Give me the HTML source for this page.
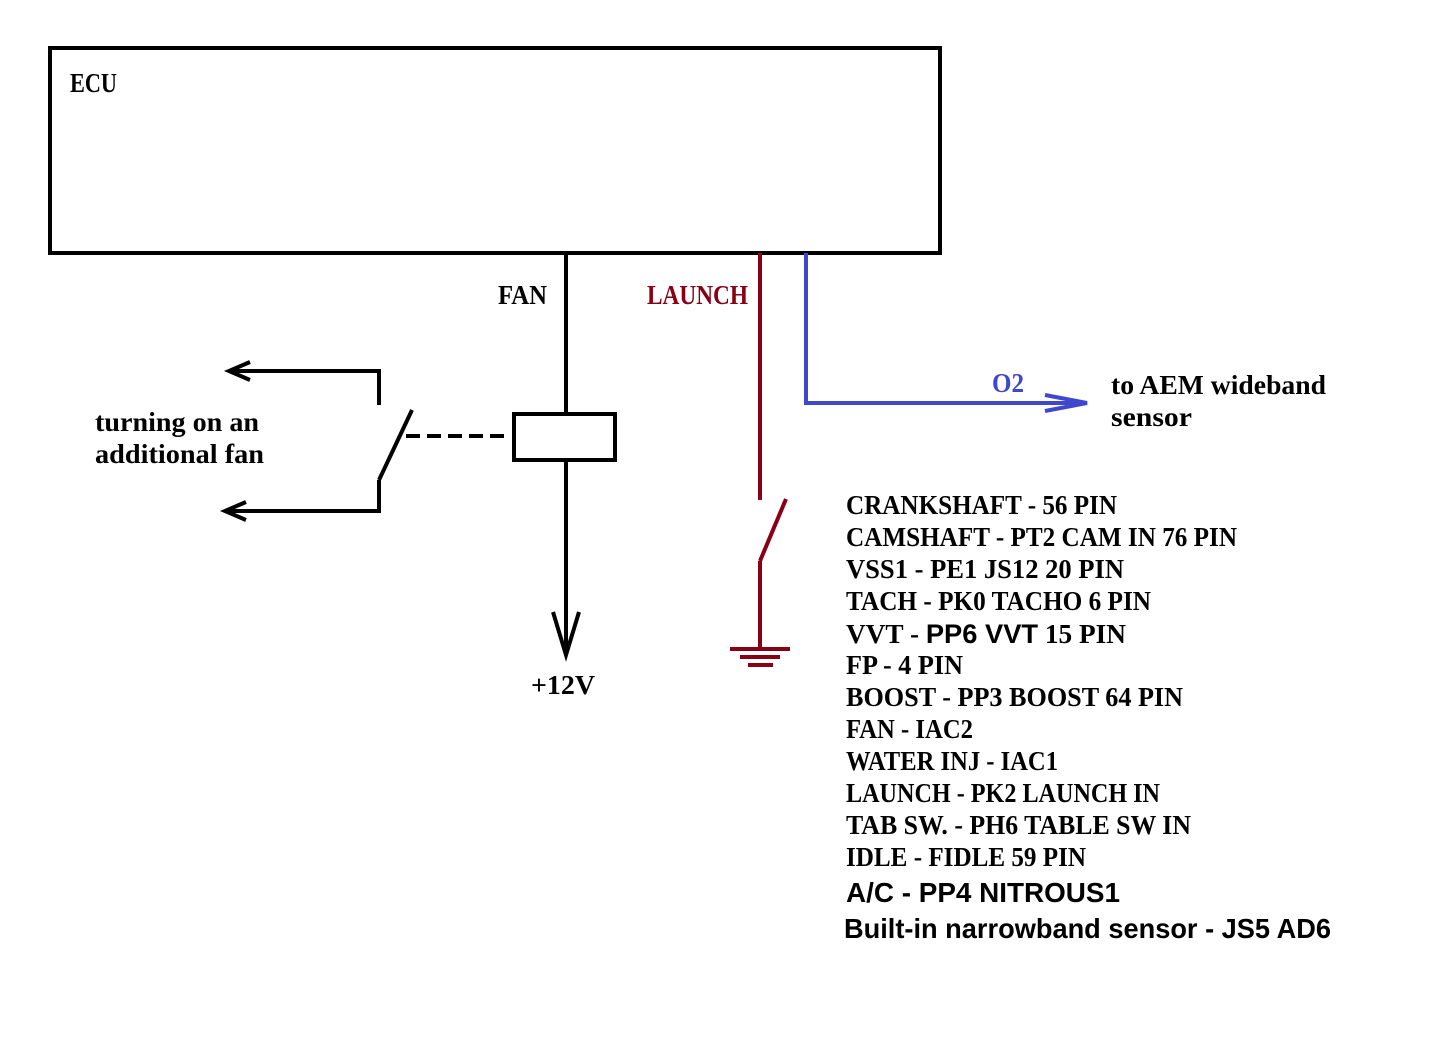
<!DOCTYPE html>
<html><head><meta charset="utf-8"><style>html,body{margin:0;padding:0;background:#fff}svg{display:block}</style></head>
<body>
<svg width="1433" height="1057" viewBox="0 0 1433 1057" xmlns="http://www.w3.org/2000/svg">
<rect width="1433" height="1057" fill="#fff"/>
<g fill="none" stroke="#000" stroke-width="4">
<rect x="50" y="48" width="890" height="205"/>
<line x1="566" y1="253" x2="566" y2="413"/>
<rect x="514" y="414" width="101" height="46"/>
<line x1="566" y1="460" x2="566" y2="655"/>
<polyline points="553,612 566,655 579,612"/>
<polyline points="379,405 379,371 229,371"/>
<polyline points="250,362 229,371 250,380"/>
<polyline points="379,480 379,511 225,511"/>
<polyline points="246,502 225,511 246,520"/>
<line x1="379" y1="480" x2="412" y2="410"/>
<line x1="406" y1="436" x2="508" y2="436" stroke-dasharray="14,7"/>
</g>
<g fill="none" stroke="#880015" stroke-width="4">
<line x1="760" y1="253" x2="760" y2="500"/>
<line x1="760" y1="561" x2="786" y2="499"/>
<line x1="760" y1="561" x2="760" y2="648"/>
<line x1="730" y1="649" x2="790" y2="649"/>
<line x1="740" y1="657" x2="780" y2="657"/>
<line x1="748" y1="665" x2="773" y2="665"/>
</g>
<g fill="none" stroke="#3f48cc" stroke-width="4">
<polyline points="806,253 806,403 1086,403"/>
<polyline points="1045,395 1087,403 1045,411"/>
</g>
<g font-family="'Liberation Serif', serif" font-weight="bold" font-size="27" fill="#000">
<text x="70" y="92" textLength="47" lengthAdjust="spacingAndGlyphs">ECU</text>
<text x="498" y="304" textLength="49" lengthAdjust="spacingAndGlyphs">FAN</text>
<text x="647" y="304" textLength="101" lengthAdjust="spacingAndGlyphs" fill="#880015">LAUNCH</text>
<text x="992" y="392" textLength="32" lengthAdjust="spacingAndGlyphs" fill="#3f48cc">O2</text>
<text x="1111" y="394" textLength="215" lengthAdjust="spacingAndGlyphs">to AEM wideband</text>
<text x="1111" y="426" textLength="81" lengthAdjust="spacingAndGlyphs">sensor</text>
<text x="95" y="431" textLength="164" lengthAdjust="spacingAndGlyphs">turning on an</text>
<text x="95" y="463" textLength="169" lengthAdjust="spacingAndGlyphs">additional fan</text>
<text x="531" y="694" textLength="64" lengthAdjust="spacingAndGlyphs">+12V</text>
<text x="846" y="514" textLength="271" lengthAdjust="spacingAndGlyphs">CRANKSHAFT - 56 PIN</text>
<text x="846" y="546" textLength="391" lengthAdjust="spacingAndGlyphs">CAMSHAFT - PT2 CAM IN 76 PIN</text>
<text x="846" y="578" textLength="278" lengthAdjust="spacingAndGlyphs">VSS1 - PE1 JS12 20 PIN</text>
<text x="846" y="610" textLength="305" lengthAdjust="spacingAndGlyphs">TACH - PK0 TACHO 6 PIN</text>
<text x="846" y="643" textLength="280" lengthAdjust="spacingAndGlyphs">VVT - <tspan font-family="'Liberation Sans', sans-serif">PP6 VVT</tspan>  15 PIN</text>
<text x="846" y="674" textLength="117" lengthAdjust="spacingAndGlyphs">FP - 4 PIN</text>
<text x="846" y="706" textLength="337" lengthAdjust="spacingAndGlyphs">BOOST - PP3 BOOST 64 PIN</text>
<text x="846" y="738" textLength="127" lengthAdjust="spacingAndGlyphs">FAN - IAC2</text>
<text x="846" y="770" textLength="212" lengthAdjust="spacingAndGlyphs">WATER INJ - IAC1</text>
<text x="846" y="802" textLength="314" lengthAdjust="spacingAndGlyphs">LAUNCH - PK2 LAUNCH IN</text>
<text x="846" y="834" textLength="345" lengthAdjust="spacingAndGlyphs">TAB SW. - PH6 TABLE SW IN</text>
<text x="846" y="866" textLength="240" lengthAdjust="spacingAndGlyphs">IDLE - FIDLE 59 PIN</text>
</g>
<g font-family="'Liberation Sans', sans-serif" font-weight="bold" font-size="28" fill="#000">
<text x="846" y="902" textLength="274" lengthAdjust="spacingAndGlyphs">A/C  - PP4 NITROUS1</text>
<text x="844" y="938" textLength="487" lengthAdjust="spacingAndGlyphs">Built-in narrowband sensor - JS5 AD6</text>
</g>
</svg>
</body></html>
